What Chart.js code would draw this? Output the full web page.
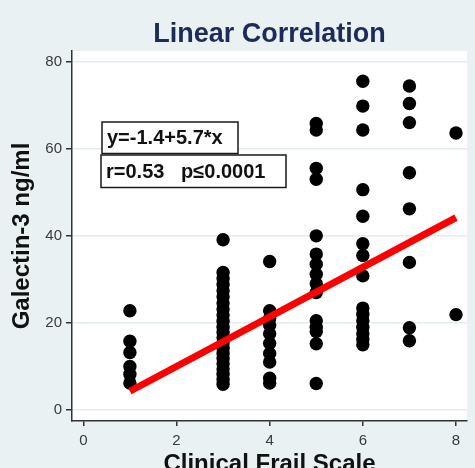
<!DOCTYPE html>
<html>
<head>
<meta charset="utf-8">
<script src="https://cdn.jsdelivr.net/npm/chart.js@4/dist/chart.umd.min.js"></script>
<style>
  html, body { margin: 0; padding: 0; background: #e9f1f3; }
  #chart { display: block; }
</style>
</head>
<body>
<canvas id="chart" width="475" height="468"></canvas>
<script>
// Clinical Frail Scale score and the galectin-3 values (ng/ml) recorded at each score
const frailScores = [1, 3, 4, 5, 6, 7, 8];
const galectinByScore = [
    [22.8, 15.8, 13.2, 10, 8.2, 6.2],
    [39.1, 31.6, 30.2, 28.8, 27.4, 26, 24.6, 23.2, 21.8, 20.4, 19, 17.8, 16.6, 15.4, 14.2, 13, 11.8, 10.6, 9.4, 8.2, 7, 5.9],
    [34.1, 22.8, 21, 19.5, 17.5, 15.3, 13, 11, 7.3, 6.2],
    [65.8, 64.3, 55.5, 53, 40, 35.8, 33.5, 31.2, 29, 27, 20.5, 19, 18, 15.2, 6.1],
    [75.5, 69.8, 64.3, 50.6, 44.5, 38.2, 35.5, 30.8, 23.4, 22, 20.5, 19, 17.5, 16.2, 15],
    [74.4, 70.4, 66, 54.5, 46.2, 33.9, 18.9, 15.9],
    [63.6, 21.9]
];

const xTicks = [0, 2, 4, 6, 8];
const yTicks = [0, 20, 40, 60, 80];

// fitted regression line
const fitIntercept = -1.4;
const fitSlope = 5.7;
const fitRange = [1, 8];
const fitLabel = 'y=-1.4+5.7*x';
const statsLabel = 'r=0.53   p\u22640.0001';

const FONT = '"Liberation Sans", Arial, Helvetica, sans-serif';

const points = [];
frailScores.forEach(function (score, i) {
    galectinByScore[i].forEach(function (v) {
        points.push({ x: score, y: v });
    });
});

const fitLine = fitRange.map(x => ({ x: x, y: fitIntercept + fitSlope * x }));

// grey page, white plot region
const plotBackground = {
    id: 'plotBackground',
    beforeDraw(chart) {
        const { ctx, chartArea: a } = chart;
        ctx.save();
        ctx.fillStyle = '#e9f1f3';
        ctx.fillRect(0, 0, chart.width, chart.height);
        ctx.fillStyle = '#ffffff';
        ctx.fillRect(a.left, a.top, a.right - a.left, a.bottom - a.top);
        ctx.restore();
    }
};

// boxed equation and correlation text
const statBoxes = {
    id: 'statBoxes',
    afterDatasetsDraw(chart) {
        const { ctx, chartArea: a } = chart;
        const boxes = [
            { text: fitLabel, left: a.left + 30, top: a.top + 71, w: 136, h: 31.5 },
            { text: statsLabel, left: a.left + 29, top: a.top + 104, w: 185, h: 32.5 }
        ];
        ctx.save();
        boxes.forEach(function (b) {
            ctx.fillStyle = '#ffffff';
            ctx.fillRect(b.left, b.top, b.w, b.h);
            ctx.strokeStyle = '#1a1a1a';
            ctx.lineWidth = 1.5;
            ctx.strokeRect(b.left, b.top, b.w, b.h);
            ctx.fillStyle = '#111111';
            ctx.font = 'bold 20px ' + FONT;
            ctx.textBaseline = 'middle';
            ctx.textAlign = 'left';
            ctx.fillText(b.text, b.left + 5, b.top + b.h / 2 + 1);
        });
        ctx.restore();
    }
};

new Chart(document.getElementById('chart'), {
    type: 'scatter',
    data: {
        datasets: [{
            type: 'line',
            data: fitLine,
            borderColor: '#ff0000',
            borderWidth: 7,
            pointRadius: 0,
            borderCapStyle: 'butt',
            fill: false,
            order: 0
        }, {
            data: points,
            backgroundColor: '#000000',
            borderWidth: 0,
            pointRadius: 6.7,
            pointHoverRadius: 6.7,
            order: 1
        }]
    },
    options: {
        responsive: false,
        animation: false,
        devicePixelRatio: 1,
        layout: { padding: { left: 0, right: 8, top: 0, bottom: 0 } },
        plugins: {
            legend: { display: false },
            tooltip: { enabled: false },
            title: {
                display: true,
                text: 'Linear Correlation',
                fullSize: false,
                color: '#1c2b59',
                font: { family: FONT, size: 27, weight: 'bold', lineHeight: 1.2 },
                padding: { top: 18.6, bottom: 0 }
            }
        },
        scales: {
            x: {
                type: 'linear',
                min: -0.243,
                max: 8.236,
                afterFit: function (scale) { scale.height = 47; },
                afterBuildTicks: function (scale) {
                    scale.ticks = xTicks.map(v => ({ value: v }));
                },
                grid: {
                    drawOnChartArea: false,
                    drawTicks: true,
                    tickLength: 5,
                    tickColor: '#333333',
                    lineWidth: 1.5
                },
                border: { display: true, color: '#333333', width: 1.5 },
                ticks: {
                    color: '#3a3a3a',
                    padding: 6,
                    font: { family: FONT, size: 15 }
                },
                title: {
                    display: true,
                    text: 'Clinical Frail Scale',
                    color: '#111111',
                    font: { family: FONT, size: 24, weight: 'bold', lineHeight: 1.2 },
                    padding: { top: 0, bottom: -10.4 }
                }
            },
            y: {
                type: 'linear',
                min: -2.53,
                max: 82.45,
                afterFit: function (scale) { scale.width = 72; },
                afterBuildTicks: function (scale) {
                    scale.ticks = yTicks.map(v => ({ value: v }));
                },
                grid: {
                    color: '#e2ebee',
                    lineWidth: 1.5,
                    drawTicks: true,
                    tickLength: 6,
                    tickColor: '#333333'
                },
                border: { display: true, color: '#333333', width: 1.5 },
                ticks: {
                    color: '#3a3a3a',
                    padding: 4,
                    font: { family: FONT, size: 15 }
                },
                title: {
                    display: true,
                    text: 'Galectin-3 ng/ml',
                    color: '#111111',
                    font: { family: FONT, size: 24, weight: 'bold', lineHeight: 1.2 },
                    padding: { top: 7.6, bottom: 0 }
                }
            }
        }
    },
    plugins: [plotBackground, statBoxes]
});
</script>
</body>
</html>
